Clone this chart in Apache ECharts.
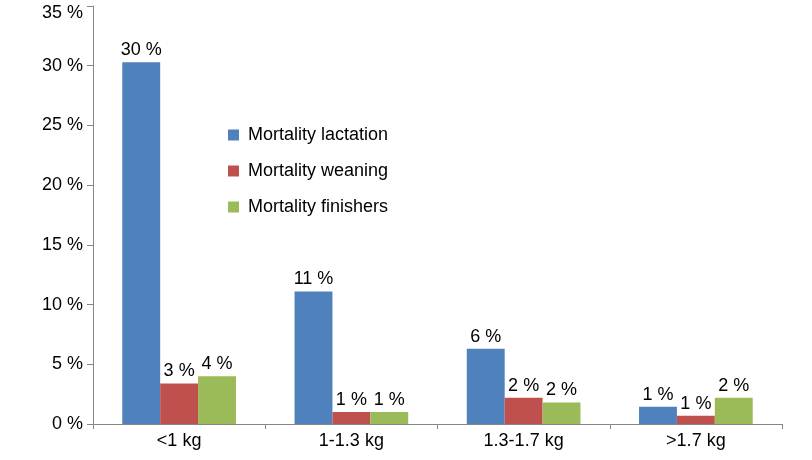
<!DOCTYPE html>
<html>
<head>
<meta charset="utf-8">
<script src="https://cdn.jsdelivr.net/npm/echarts@6/dist/echarts.min.js"></script>
<style>
  html, body { margin: 0; padding: 0; background: #fff; }
  #chart { width: 812px; height: 460px; }
</style>
</head>
<body>
<div id="chart"></div>
<script>
const categories = ['<1 kg', '1-1.3 kg', '1.3-1.7 kg', '>1.7 kg']
const lactation = [30.3, 11.1, 6.3, 1.45]
const weaning = [3.4, 1.0, 2.2, 0.7]
const finishers = [4.0, 1.0, 1.8, 2.2]

const font = 'Liberation Sans, Arial, sans-serif'

const bar = (name, data, color) => ({
  name,
  type: 'bar',
  data,
  barGap: 0,
  barCategoryGap: '34%',
  itemStyle: { color },
  label: {
    show: true,
    position: 'top',
    distance: 3,
    color: '#000',
    fontFamily: font,
    fontSize: 18,
    formatter: p => Math.round(p.value) + ' %'
  }
})

const chart = echarts.init(document.getElementById('chart'))
chart.setOption({
  animation: false,
  grid: { left: 93, right: 30, top: 6, bottom: 36 },
  legend: {
    orient: 'vertical',
    left: 228,
    top: 126,
    padding: 0,
    itemGap: 18,
    itemWidth: 11,
    itemHeight: 11,
    icon: 'rect',
    textStyle: { color: '#000', fontFamily: font, fontSize: 18, padding: [0, 0, 0, 4] }
  },
  xAxis: {
    type: 'category',
    data: categories,
    axisLine: { lineStyle: { color: '#868686' } },
    axisTick: { show: true, length: 5, lineStyle: { color: '#868686' } },
    axisLabel: { color: '#000', fontFamily: font, fontSize: 18, margin: 8 }
  },
  yAxis: {
    type: 'value',
    min: 0,
    max: 35,
    interval: 5,
    axisLine: { show: true, lineStyle: { color: '#868686' } },
    axisTick: { show: true, length: 6, lineStyle: { color: '#868686' } },
    splitLine: { show: false },
    axisLabel: {
      color: '#000', fontFamily: font, fontSize: 18, margin: 10,
      formatter: v => v === 35 ? '{t|35 %}' : v + ' %',
      rich: { t: { fontFamily: font, fontSize: 18, color: '#000', padding: [14, 0, 0, 0] } }
    }
  },
  series: [
    bar('Mortality lactation', lactation, '#4F81BD'),
    bar('Mortality weaning', weaning, '#C0504D'),
    bar('Mortality finishers', finishers, '#9BBB59')
  ]
})
</script>
</body>
</html>
